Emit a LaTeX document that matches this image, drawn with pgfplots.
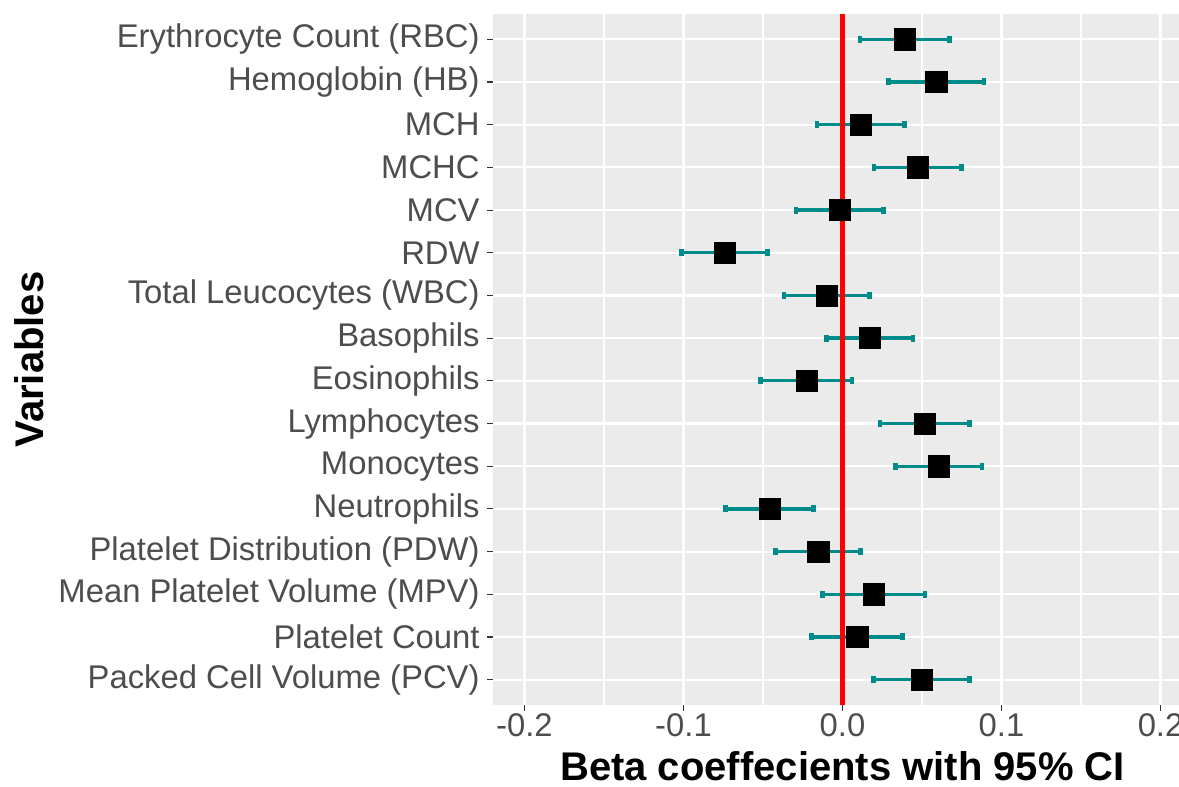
\documentclass[border=0pt]{standalone}
\usepackage{pgfplots}
\pgfplotsset{compat=1.18}
\usepackage{pgfplotstable}
\usepackage{fontspec}
\setmainfont{Liberation Sans}
\definecolor{panelgrey}{HTML}{EBEBEB}
\definecolor{ticktext}{HTML}{4D4D4D}
\definecolor{tickcol}{HTML}{333333}
\definecolor{cifill}{HTML}{008B8B}

\pgfplotstableread{
y est lo hi
16 0.0391 0.0110 0.0672
15 0.0590 0.0290 0.0890
14 0.0114 -0.0160 0.0389
13 0.0475 0.0198 0.0750
12 -0.0018 -0.0292 0.0257
11 -0.0741 -0.1014 -0.0471
10 -0.0097 -0.0368 0.0169
9 0.0171 -0.0102 0.0443
8 -0.0225 -0.0515 0.0060
7 0.0519 0.0236 0.0798
6 0.0607 0.0332 0.0877
5 -0.0458 -0.0737 -0.0181
4 -0.0152 -0.0420 0.0114
3 0.0198 -0.0127 0.0519
2 0.0093 -0.0194 0.0378
1 0.0498 0.0196 0.0798
}\datatable

\begin{document}
\begin{tikzpicture}
\begin{axis}[
  name=main,
  at={(0,0)}, anchor=south west,
  scale only axis,
  width=343pt, height=345.8pt,
  xmin=-0.2198, xmax=0.2116,
  ymin=0.4, ymax=16.6,
  axis background/.style={fill=panelgrey},
  axis line style={draw=none},
  xtick={-0.2,-0.1,0,0.1,0.2},
  xticklabels={-0.2,-0.1,0.0,0.1,0.2},
  minor xtick={-0.15,-0.05,0.05,0.15},
  ytick={1,...,16},
  yticklabels={Packed Cell Volume (PCV),Platelet Count,Mean Platelet Volume (MPV),Platelet Distribution (PDW),Neutrophils,Monocytes,Lymphocytes,Eosinophils,Basophils,Total Leucocytes (WBC),RDW,MCV,MCHC,MCH,Hemoglobin (HB),Erythrocyte Count (RBC)},
  xtick pos=bottom, ytick pos=left,
  tick align=outside,
  major tick length=2.75pt,
  minor tick length=0pt,
  tick style={tickcol, line width=0.55pt},
  grid=both,
  major grid style={white, line width=1.1pt},
  minor grid style={white, line width=0.55pt},
  ticklabel style={font=\fontsize{16.4}{18}\selectfont, text=ticktext, inner sep=0pt},
  yticklabel style={xshift=-3.75pt},
  xticklabel style={yshift=-1.35pt},
  clip=false,
]
\addplot[only marks, mark=square*, mark size=5.3pt, mark options={fill=black, draw=black, line width=0.3pt}]
  table[x=est, y=y] {\datatable};
\addplot[only marks, mark=none, draw=none,
  error bars/.cd, x dir=both, x explicit,
  error mark=|,
  error bar style={cifill, line width=1.65pt},
  error mark options={cifill, line width=2.4pt, mark size=1.75pt}]
  table[x=est, y=y, x error plus expr=\thisrow{hi}-\thisrow{est}, x error minus expr=\thisrow{est}-\thisrow{lo}] {\datatable};
\draw[red, line width=2.35pt] (axis cs:0,0.4) -- (axis cs:0,16.6);
\node[anchor=base, font=\fontsize{20}{24}\selectfont\bfseries] at ([yshift=-37.85pt]rel axis cs:0.5095,0) {Beta coeffecients with 95\% CI};
\node[anchor=base, rotate=90, font=\fontsize{20}{24}\selectfont\bfseries] at ([xshift=-224.7pt]rel axis cs:0,0.5) {Variables};
\end{axis}
\pgfresetboundingbox
\path[use as bounding box] ([xshift=-246.5pt, yshift=-40.85pt]main.south west) rectangle ([yshift=6.85pt]main.north east);
\end{tikzpicture}
\end{document}
